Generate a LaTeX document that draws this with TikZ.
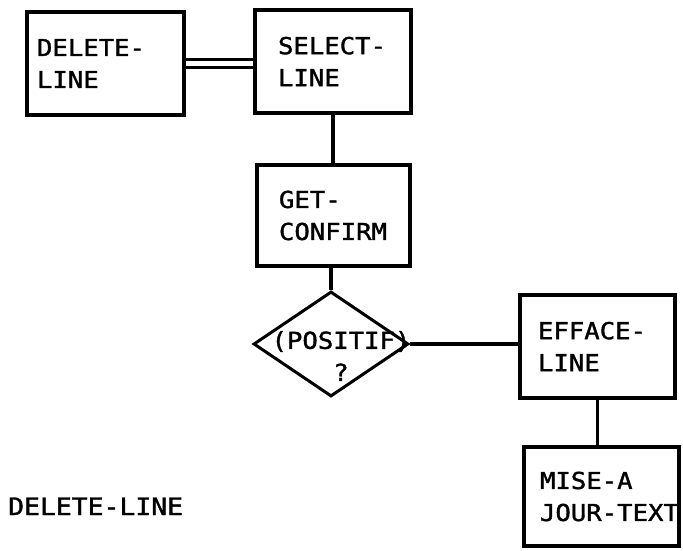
\documentclass[tikz,border=0pt]{standalone}
\usepackage{fontspec}
\usepackage{tikz}
\usetikzlibrary{shapes.geometric}

\newfontfamily\monoboxfont[FakeStretch=1.1, FakeBold=1.5]{DejaVu Sans Mono}
\newcommand{\boxtype}{\monoboxfont\fontsize{23.3pt}{32pt}\selectfont}
\newcommand{\titletype}{\monoboxfont\fontsize{24pt}{28pt}\selectfont}

\tikzset{
  procbox/.style={draw, line width=3.5pt, rectangle, font=\boxtype, align=left,
    inner ysep=0pt, minimum height=#1},
  procbox/.default=103pt,
  testbox/.style={draw, line width=3pt, diamond, inner sep=0pt,
    minimum width=155pt, minimum height=105pt},
  link/.style={line width=3.5pt}
}

\begin{document}
\begin{tikzpicture}[x=1pt, y=-1pt]
  \useasboundingbox (0,0) rectangle (683,551);

  \node[procbox, text width=137pt, inner xsep=10pt] (del) at (105.5,63.5) {\mbox{DELETE-}\\LINE};
  \node[procbox, text width=110pt, inner xsep=23pt] (sel) at (333,61.5) {\mbox{SELECT-}\\LINE};
  \node[procbox=101pt, text width=109pt, inner xsep=22pt] (get) at (333.5,215.5) {\mbox{GET-}\\\mbox{CONFIRM}};
  \node[testbox, label={[font=\boxtype, align=center, xshift=10pt, yshift=-12pt]center:{(POSITIF)\\?}}] (pos) at (331,344) {};
  \node[procbox, text width=119pt, inner xsep=18pt] (eff) at (597.5,346.5) {\mbox{EFFACE-}\\LINE};
  \node[procbox=99pt, text width=123pt, inner xsep=16pt] (mise) at (601.5,496.5) {\mbox{MISE-A}\\\mbox{JOUR-TEXT}};

  \node[font=\titletype, anchor=base west, inner sep=0pt] (title) at (8,515) {DELETE-LINE};

  \draw[link, double, double distance=4.5pt] (del.east) -- (del.east -| sel.west);
  \draw[link] (sel.south) -- (sel.south |- get.north);
  \draw[link] (get.south -| pos.north) -- (pos.north);
  \draw[link] (pos.east) -- (pos.east -| eff.west);
  \draw[link] (eff.south) -- (eff.south |- mise.north);
\end{tikzpicture}
\end{document}
